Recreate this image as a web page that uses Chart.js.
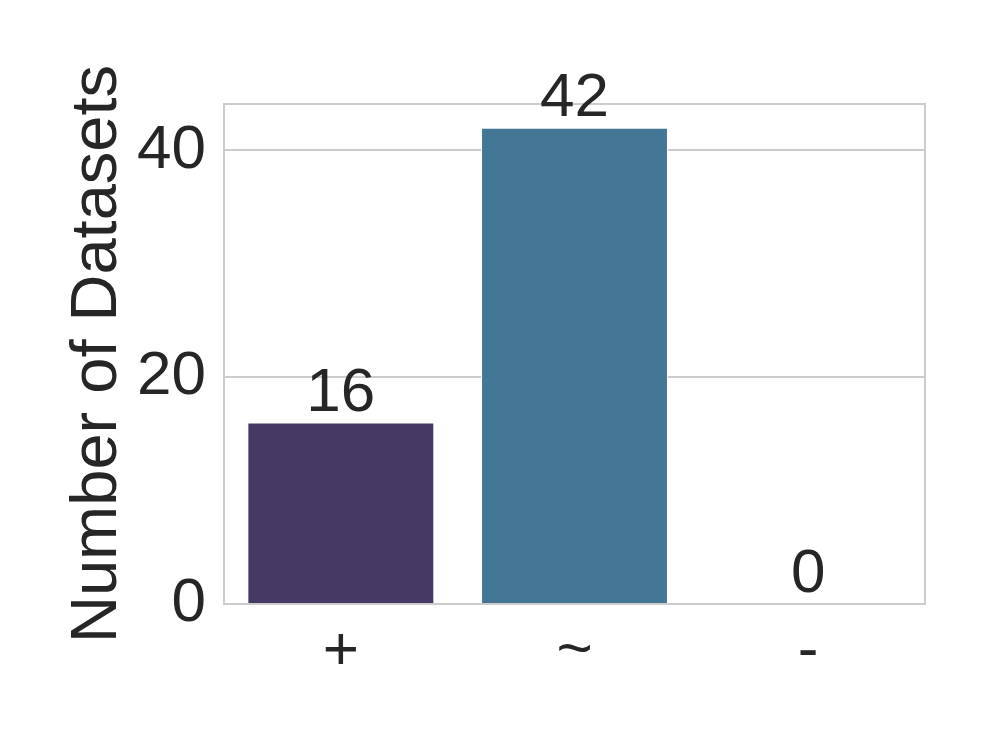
<!DOCTYPE html>
<html>
<head>
<meta charset="utf-8">
<script src="https://cdn.jsdelivr.net/npm/chart.js@4.4.0/dist/chart.umd.min.js"></script>
<style>
  html, body { margin: 0; padding: 0; background: #ffffff; }
  #wrap { width: 996px; height: 748px; }
</style>
</head>
<body>
<div id="wrap"><canvas id="chart" width="996" height="748"></canvas></div>
<script>
var categories = ['+', '~', '-'];
var counts = [16, 42, 0];
var barColors = ['#443a63', '#447695', '#6aa9a0'];
var yTicks = [0, 20, 40];

var textColor = '#262626';
var gridColor = '#cccccc';
var fontFamily = '"Liberation Sans", Arial, sans-serif';
var fontSize = 62;

// value labels above each bar
var valueLabels = {
  id: 'valueLabels',
  afterDatasetsDraw: function(chart) {
    var ctx = chart.ctx;
    var meta = chart.getDatasetMeta(0);
    ctx.save();
    ctx.fillStyle = textColor;
    ctx.font = fontSize + 'px ' + fontFamily;
    ctx.textAlign = 'center';
    ctx.textBaseline = 'alphabetic';
    meta.data.forEach(function(bar, i) {
      ctx.fillText(String(counts[i]), bar.x, bar.y - 12);
    });
    ctx.restore();
  }
};

// frame around the plot area
var frame = {
  id: 'frame',
  beforeDatasetsDraw: function(chart) {
    var a = chart.chartArea;
    var ctx = chart.ctx;
    ctx.save();
    ctx.strokeStyle = gridColor;
    ctx.lineWidth = 2;
    ctx.strokeRect(a.left, a.top, a.right - a.left, a.bottom - a.top);
    ctx.restore();
  }
};

var ctx = document.getElementById('chart').getContext('2d');
var chart = new Chart(ctx, {
  type: 'bar',
  data: {
    labels: categories,
    datasets: [{
      data: counts,
      backgroundColor: barColors,
      borderColor: '#ffffff',
      borderWidth: 1,
      categoryPercentage: 1.0,
      barPercentage: 0.8
    }]
  },
  options: {
    responsive: false,
    animation: false,
    devicePixelRatio: 1,
    layout: { padding: { left: 59, right: 71, top: 104, bottom: 0 } },
    plugins: {
      legend: { display: false },
      tooltip: { enabled: false }
    },
    scales: {
      x: {
        grid: { display: false, drawTicks: false },
        border: { display: false },
        ticks: {
          color: textColor,
          font: { family: fontFamily, size: fontSize },
          padding: 11
        },
        afterFit: function(scale) { scale.height = 748 - 604; }
      },
      y: {
        min: 0,
        max: 44.1,
        grid: { color: gridColor, lineWidth: 2, drawTicks: false },
        border: { display: false },
        afterBuildTicks: function(scale) {
          scale.ticks = yTicks.map(function(v) { return { value: v }; });
        },
        ticks: {
          color: textColor,
          font: { family: fontFamily, size: fontSize },
          padding: 18
        },
        title: {
          display: true,
          text: 'Number of Datasets',
          color: textColor,
          font: { family: fontFamily, size: 65 },
          padding: 0
        },
        afterFit: function(scale) { scale.width = 224 - 59; }
      }
    }
  },
  plugins: [frame, valueLabels]
});
</script>
</body>
</html>
